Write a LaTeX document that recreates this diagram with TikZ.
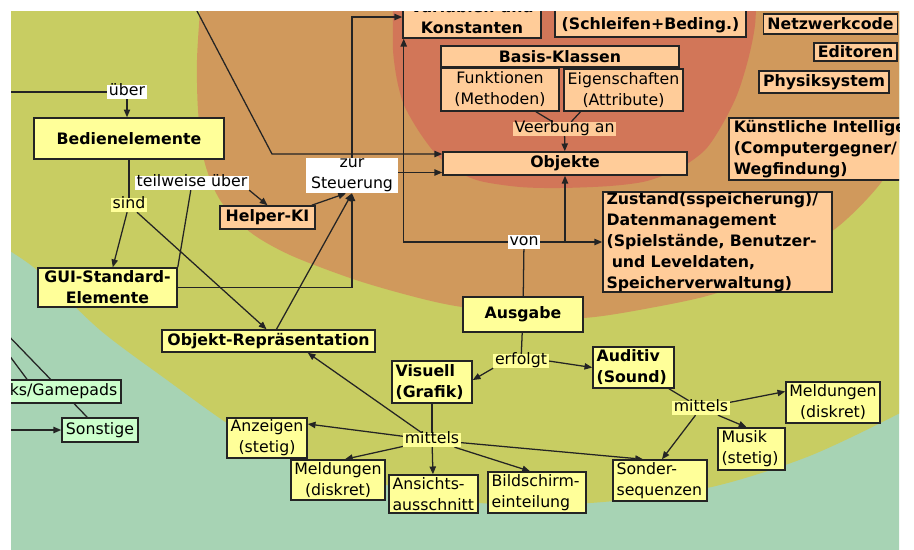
\documentclass[tikz,border=0pt]{standalone}
\usepackage{fontspec}
\setmainfont{DejaVu Sans}
\usetikzlibrary{arrows.meta, calc}
\definecolor{xTeal}{RGB}{167,211,180}
\definecolor{xLime}{RGB}{200,205,98}
\definecolor{xTan}{RGB}{208,153,92}
\definecolor{xRed}{RGB}{210,118,88}
\definecolor{xYel}{RGB}{255,255,153}
\definecolor{xOra}{RGB}{255,204,153}
\definecolor{xMint}{RGB}{204,255,204}
\definecolor{xInk}{RGB}{36,36,36}
\newcommand{\mapfont}{\fontsize{11.2}{14.9}\selectfont}
\pgfdeclarelayer{ground}
\pgfdeclarelayer{wires}
\pgfsetlayers{ground,wires,main}
\tikzset{
  wh/.style 2 args={minimum width=#1*0.025cm, minimum height=#2*0.025cm},
  card/.style={draw=xInk, line width=1.1pt, inner sep=0pt, align=center, font=\mapfont},
  heavy/.style={font=\mapfont\bfseries},
  lbox/.style 2 args={align=left, inner xsep=0.09cm, text width=#1, minimum height=#2*0.025cm},
  yel/.style={card, fill=xYel},
  ora/.style={card, fill=xOra},
  mint/.style={card, fill=xMint},
  tag/.style={fill=white, inner xsep=0.04cm, inner ysep=0pt, font=\mapfont, text height=0.76em, text depth=0.22em},
  tagy/.style={tag, fill=xYel},
  tago/.style={tag, fill=xOra},
  link/.style={draw=xInk, line width=0.9pt},
  arr/.style={link, -{Triangle[length=5.5pt, width=4.5pt]}},
}

\begin{document}
\begin{tikzpicture}[x=0.025cm, y=-0.025cm, font=\mapfont]
  \useasboundingbox (0,0) rectangle (914,549);
  % rings of the map
  \begin{pgfonlayer}{ground}
    \clip (11,11) rectangle (899,549);
    \fill[xTeal] (0,0) rectangle (914,560);
    \fill[xLime] (-20,-20) -- (-20,232) -- plot[smooth] coordinates {(0,245) (37,270) (100,330) (167,380) (233,427) (290,457) (387,485) (480,503) (590,503) (707,488) (807,457) (900,413) (930,393)} -- (940,-20) -- cycle;
    \fill[xTan] (203,-20) -- plot[smooth] coordinates {(200,11) (197,60) (198,110) (204,160) (220,200) (250,232) (290,255) (350,278) (400,293) (450,305) (520,315) (583,318) (650,308) (717,293) (780,265) (840,225) (883,180) (900,140) (915,90)} -- (920,-20) -- cycle;
    \fill[xRed] (393,-20) -- plot[smooth] coordinates {(393,11) (393,50) (397,80) (404,105) (418,130) (435,153) (455,170) (480,181) (520,187) (560,188) (610,186) (647,181) (680,168) (705,150) (722,125) (737,95) (748,60) (755,25) (757,-20)} -- cycle;
  \end{pgfonlayer}

  \begin{scope}
    \clip (11,11) rectangle (899,549);
    % core
    \node[ora, heavy, wh={138}{42}] (var) at (472,17) {Variablen und\\Konstanten};
    \node[ora, heavy, wh={191}{45}] (kontr) at (650.5,14.5) {Kontrollstrukturen\\(Schleifen+Beding.)};
    \node[ora, heavy, wh={238}{21}] (basis) at (560,56.5) {Basis-Klassen};
    \node[ora, wh={118}{43}] (funk) at (500,89.5) {Funktionen\\(Methoden)};
    \node[ora, wh={119}{42}] (eig) at (623.5,90) {Eigenschaften\\(Attribute)};
    \node[tago] (verb) at (564.5,129) {Veerbung an};
    \node[ora, heavy, wh={244}{23}] (obj) at (565,163.5) {Objekte};
    % second ring
    \node[ora, heavy, wh={134}{20}] (netz) at (830.5,24) {Netzwerkcode};
    \node[ora, heavy, wh={83}{18}] (edit) at (855.5,52) {Editoren};
    \node[ora, heavy, wh={130}{22}] (phys) at (824,82) {Physiksystem};
    \node[ora, heavy, anchor=west, align=left, inner xsep=0.125cm, wh={0}{62}] (ki) at (728,149) {Künstliche Intelligenz\\(Computergegner/\\Wegfindung)};
    \node[ora, heavy, lbox={5.545cm}{100}] (zust) at (717.5,242) {Zustand(sspeicherung)/\\Datenmanagement\\(Spielstände, Benutzer-\\\hspace*{0.33em}und Leveldaten,\\Speicherverwaltung)};
    \node[tag] (von) at (524,242) {von};
    \node[ora, heavy, wh={95}{23}] (helper) at (267.5,217.5) {Helper-KI};
    \node[fill=white, inner sep=0pt, align=center, wh={92}{35}] (zur) at (352,175.5) {zur\\Steuerung};
    % input
    \node[tag] (ueber) at (127,92) {über};
    \node[yel, heavy, wh={190}{41}] (bed) at (129,138.5) {Bedienelemente};
    \node[tag] (teilw) at (192,183) {teilweise über};
    \node[tagy] (sind) at (129,205) {sind};
    \node[yel, heavy, wh={139}{39}] (gui) at (107.5,287.5) {GUI-Standard-\\Elemente};
    \node[yel, heavy, wh={213}{22}] (objrep) at (268.5,341) {Objekt-Repräsentation};
    \node[mint, anchor=east, inner xsep=0.1cm, wh={0}{23}] (joy) at (122,391.5) {Joysticks/Gamepads};
    \node[mint, wh={76}{24}] (sonst) at (100,430) {Sonstige};
    % output
    \node[yel, heavy, wh={120}{35}] (ausg) at (523,314.5) {Ausgabe};
    \node[tagy] (erf) at (521,361) {erfolgt};
    \node[yel, heavy, lbox={1.82cm}{42}] (vis) at (432,382) {Visuell\\(Grafik)};
    \node[yel, heavy, lbox={1.845cm}{41}] (aud) at (633.5,367.5) {Auditiv\\(Sound)};
    \node[tagy] (mitv) at (432,440) {mittels};
    \node[yel, wh={80}{40}] (anz) at (267,438) {Anzeigen\\(stetig)};
    \node[yel, wh={94}{40}] (meldv) at (338,480) {Meldungen\\(diskret)};
    \node[yel, lbox={2.045cm}{38}] (ans) at (433.5,494) {Ansichts-\\ausschnitt};
    \node[yel, lbox={2.27cm}{41}] (bild) at (537,492.5) {Bildschirm-\\einteilung};
    \node[yel, lbox={2.17cm}{41}] (sond) at (660,480.5) {Sonder-\\sequenzen};
    \node[tagy] (mita) at (701,408) {mittels};
    \node[yel, wh={94}{41}] (melda) at (833,402.5) {Meldungen\\(diskret)};
    \node[yel, lbox={1.495cm}{42}] (musik) at (751.5,449) {Musik\\(stetig)};
  \end{scope}

  \begin{pgfonlayer}{wires}
    \clip (11,11) rectangle (899,549);
    \coordinate (inTop) at (186,-10);
    \coordinate (knee) at (272,154);
    \coordinate (inUeber) at (0,92);
    \coordinate (inJoy) at (0,343);
    \coordinate (inSon) at (0,327);
    \coordinate (inRest) at (0,430);
    % core
    \draw[link] ($(funk.south)+(36,0)$) -- (verb);
    \draw[link] ($(eig.south)+(-43,0)$) -- (verb);
    \draw[arr] (verb) -- (obj);
    \draw[arr] (inTop) -- (knee) -- (knee -| obj.west);
    \draw[arr] (zur.north) |- (var.west);
    \draw[arr] ($(zur.east)+(0,-3)$) -- ($(zur.east -| obj.west)+(0,-3)$);
    \draw[link] (ausg) -- (von);
    \draw[arr] (von.west) -| ($(var.south west)+(1.5,0)$);
    \draw[arr] (von.east) -- (von.east -| zust.west);
    \draw[arr] (von.east -| obj.south) -- (obj.south);
    % input
    \draw[link] (inUeber) -- (ueber);
    \draw[arr] (ueber) -- (ueber |- bed.north);
    \draw[link] (bed.south) -- (sind);
    \draw[arr] (sind) -- (gui);
    \draw[arr] (sind) -- ($(objrep.north)+(-2,0)$);
    \draw[link] (teilw) -- (gui.north east);
    \draw[arr] (teilw.south east) -- (helper.north);
    \draw[arr] ($(helper.north east)+(-4,0)$) -- ($(zur.south)+(-6,0)$);
    \draw[arr] ($(objrep.north)+(8,0)$) -- (zur.south);
    \draw[arr] (gui.east) -| (zur.south);
    \draw[link] (inSon) -- ($(sonst.north west)+(26,0)$);
    \draw[link] (inJoy) -- ($(joy.north east)+(-95,0)$);
    \draw[arr] (inRest) -- (sonst.west);
    % output
    \draw[link] (ausg) -- (erf);
    \draw[arr] (erf.south west) -- ($(vis.east)+(0,-2)$);
    \draw[arr] (erf.east) -- (aud.west);
    \draw[link] (vis) -- (mitv);
    \draw[arr] (mitv) -- ($(objrep.south east)+(-68,0)$);
    \draw[arr] (mitv) -- ($(anz.east)+(0,-14)$);
    \draw[arr] (mitv) -- ($(meldv.north)+(7,0)$);
    \draw[arr] (mitv) -- (ans);
    \draw[arr] (mitv) -- ($(bild.north)+(-7,0)$);
    \draw[arr] (mitv) -- ($(sond.north)+(-17,0)$);
    \draw[link] (aud) -- (mita);
    \draw[arr] (mita) -- ($(melda.west)+(0,-11)$);
    \draw[arr] (mita) -- ($(musik.north)+(-5,0)$);
    \draw[arr] (mita) -- ($(sond.north)+(2,0)$);
  \end{pgfonlayer}
\end{tikzpicture}
\end{document}
